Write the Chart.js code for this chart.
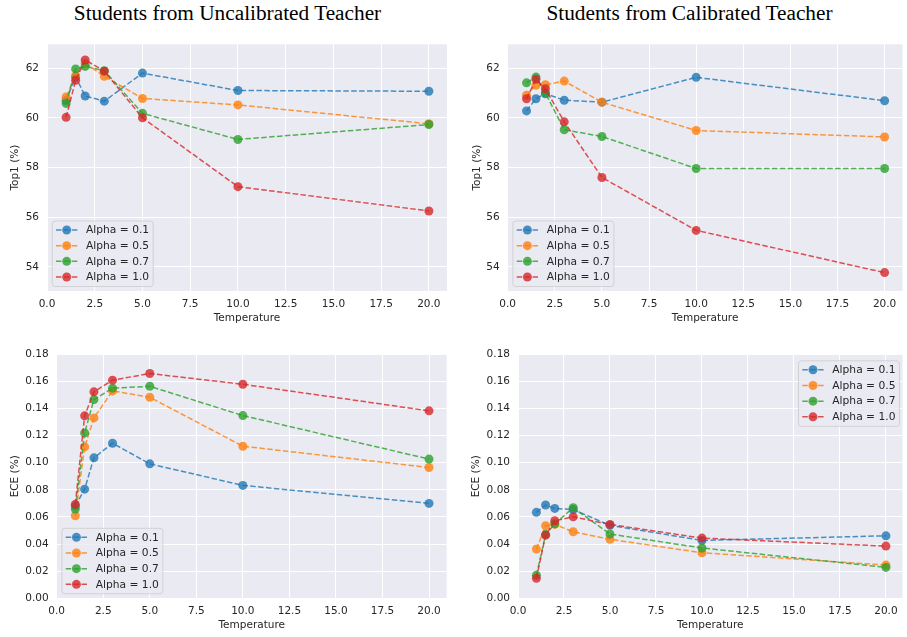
<!DOCTYPE html>
<html lang="en">
<head>
  <meta charset="UTF-8" />
  <title>Students from Uncalibrated / Calibrated Teacher</title>
  <script src="https://cdn.jsdelivr.net/npm/chart.js"></script>
  <style>
    body { margin: 0; background: #fff; width: 907px; height: 637px; overflow: hidden; position: relative; }
    canvas { position: absolute; }
    .title { position: absolute; width: 400px; text-align: center; font-family: "Liberation Serif", "Times New Roman", serif;
             font-size: 21.3px; line-height: 21.3px; color: #000; top: 3px; white-space: nowrap; }
  </style>
</head>
<body>
  <div class="title" style="left: 27.5px;">Students from Uncalibrated Teacher</div>
  <div class="title" style="left: 489.5px;">Students from Calibrated Teacher</div>

  <canvas id="uncalTop1Chart" width="452" height="300" style="left:0;top:30px"></canvas>
  <canvas id="calTop1Chart" width="450" height="300" style="left:457px;top:30px"></canvas>
  <canvas id="uncalEceChart" width="452" height="297" style="left:0;top:340px"></canvas>
  <canvas id="calEceChart" width="450" height="297" style="left:457px;top:340px"></canvas>

  <script>
    // data
    const temperatures = [1, 1.5, 2, 3, 5, 10, 20];
    const alphas = ['0.1', '0.5', '0.7', '1.0'];
    const xTicks = [0, 2.5, 5, 7.5, 10, 12.5, 15, 17.5, 20];

    // rows: alpha 0.1, 0.5, 0.7, 1.0
    const uncalTop1 = [
      [60.70, 61.64, 60.88, 60.67, 61.80, 61.10, 61.07],
      [60.84, 61.70, 62.20, 61.67, 60.78, 60.52, 59.76],
      [60.58, 61.97, 62.07, 61.90, 60.18, 59.13, 59.73],
      [60.02, 61.51, 62.33, 61.88, 60.00, 57.23, 56.25]
    ];
    const calTop1 = [
      [60.28, 60.77, 60.97, 60.71, 60.63, 61.63, 60.69],
      [60.91, 61.31, 61.33, 61.48, 60.63, 59.49, 59.23],
      [61.41, 61.64, 61.00, 59.52, 59.25, 57.96, 57.96],
      [60.77, 61.55, 61.17, 59.84, 57.60, 55.47, 53.77]
    ];
    const uncalEce = [
      [0.0680, 0.0805, 0.1036, 0.1144, 0.0992, 0.0833, 0.0700],
      [0.0609, 0.1117, 0.1331, 0.1530, 0.1483, 0.1122, 0.0965],
      [0.0658, 0.1220, 0.1466, 0.1550, 0.1564, 0.1348, 0.1027],
      [0.0693, 0.1346, 0.1523, 0.1609, 0.1658, 0.1579, 0.1383]
    ];
    const calEce = [
      [0.0634, 0.0688, 0.0663, 0.0655, 0.0538, 0.0427, 0.0461],
      [0.0363, 0.0535, 0.0545, 0.0491, 0.0435, 0.0336, 0.0245],
      [0.0170, 0.0470, 0.0550, 0.0668, 0.0474, 0.0371, 0.0228],
      [0.0147, 0.0466, 0.0572, 0.0601, 0.0545, 0.0444, 0.0385]
    ];

    const colors = ['rgba(31,119,180,0.8)', 'rgba(255,127,14,0.8)', 'rgba(44,160,44,0.8)', 'rgba(214,39,40,0.8)'];
    const textColor = '#262626';
    const fontFamily = '"DejaVu Sans", sans-serif';

    Chart.defaults.font.family = fontFamily;
    Chart.defaults.font.size = 10.5;
    Chart.defaults.color = textColor;

    // seaborn-style grey plot background
    const plotBg = {
      id: 'plotBg',
      beforeDraw(chart) {
        const { ctx, chartArea: a } = chart;
        ctx.save();
        ctx.fillStyle = '#eaeaf2';
        ctx.fillRect(a.left, a.top, a.right - a.left, a.bottom - a.top);
        ctx.restore();
      }
    };

    // matplotlib-like legend drawn inside the axes
    const insideLegend = {
      id: 'insideLegend',
      afterDatasetsDraw(chart, args, opts) {
        const { ctx, chartArea: a } = chart;
        const w = 101, h = 65.5;
        const x = opts.corner === 'lower left' ? a.left + 4.7 : a.right - 3.5 - w;
        const y = opts.corner === 'lower left' ? a.bottom - 5 - h : a.top + 6;
        ctx.save();
        ctx.beginPath();
        if (ctx.roundRect) ctx.roundRect(x + 0.5, y + 0.5, w, h, 3);
        else ctx.rect(x + 0.5, y + 0.5, w, h);
        ctx.fillStyle = 'rgba(234,234,242,0.8)';
        ctx.fill();
        ctx.strokeStyle = 'rgba(204,204,204,0.8)';
        ctx.lineWidth = 1;
        ctx.stroke();
        chart.data.datasets.forEach((ds, i) => {
          const cy = y + 9.5 + i * 15.67;
          ctx.setLineDash(ds.borderDash);
          ctx.strokeStyle = ds.borderColor;
          ctx.lineWidth = ds.borderWidth;
          ctx.beginPath();
          ctx.moveTo(x + 4.3, cy);
          ctx.lineTo(x + 25.6, cy);
          ctx.stroke();
          ctx.setLineDash([]);
          ctx.beginPath();
          ctx.arc(x + 15, cy, ds.pointRadius, 0, Math.PI * 2);
          ctx.fillStyle = ds.pointBackgroundColor;
          ctx.fill();
          ctx.fillStyle = textColor;
          ctx.font = '10.7px ' + fontFamily;
          ctx.textBaseline = 'middle';
          ctx.fillText(ds.label, x + 34.3, cy + 0.5);
        });
        ctx.restore();
      }
    };

    function makeDatasets(rows) {
      return rows.map((vals, i) => ({
        label: 'Alpha = ' + alphas[i],
        data: vals.map((v, j) => ({ x: temperatures[j], y: v })),
        borderColor: colors[i],
        backgroundColor: colors[i],
        pointBackgroundColor: colors[i],
        borderDash: [5.5, 2.4],
        borderWidth: 1.5,
        pointRadius: 4.5,
        pointHoverRadius: 4.5,
        pointBorderWidth: 0,
        order: 4 - i,
        tension: 0
      }));
    }

    function makeChart(id, rows, cfg) {
      new Chart(document.getElementById(id), {
        type: 'line',
        data: { datasets: makeDatasets(rows) },
        plugins: [plotBg, insideLegend],
        options: {
          responsive: false,
          animation: false,
          devicePixelRatio: 1,
          layout: { padding: { top: cfg.padTop, right: cfg.padRight, left: 0, bottom: 0 } },
          plugins: {
            legend: { display: false },
            tooltip: { enabled: false },
            insideLegend: { corner: cfg.legend }
          },
          scales: {
            x: {
              type: 'linear',
              min: 0,
              max: cfg.xMax,
              afterFit: s => { s.height = cfg.xAxisH; },
              afterBuildTicks: s => { s.ticks = xTicks.map(v => ({ value: v })); },
              ticks: { padding: 6.5, maxRotation: 0, autoSkip: false, callback: v => v.toFixed(1) },
              grid: { color: '#ffffff', lineWidth: 1, drawTicks: false },
              border: { display: false },
              title: { display: true, text: 'Temperature', padding: { top: 0, bottom: cfg.xTitlePad } }
            },
            y: {
              type: 'linear',
              min: cfg.yMin,
              max: cfg.yMax,
              afterFit: s => { s.width = cfg.yAxisW; },
              ticks: { stepSize: cfg.yStep, includeBounds: false, padding: 8, callback: v => v.toFixed(cfg.yDec) },
              grid: { color: '#ffffff', lineWidth: 1, drawTicks: false },
              border: { display: false },
              title: { display: true, text: cfg.yLabel, padding: { top: cfg.yTitlePad, bottom: 0 } }
            }
          }
        }
      });
    }

    const top1Axis = { yMin: 53.03, yMax: 62.96, yStep: 2, yDec: 0, yLabel: 'Top1 (%)', xAxisH: 39, xTitlePad: 5.4 };
    const eceAxis = { yMin: 0, yMax: 0.18, yStep: 0.02, yDec: 2, yLabel: 'ECE (%)', xAxisH: 38.7, xTitlePad: 5 };

    makeChart('uncalTop1Chart', uncalTop1, Object.assign({}, top1Axis,
      { padTop: 12, padRight: 5, yAxisW: 47, yTitlePad: 8.7, xMax: 20.95, legend: 'lower left' }));
    makeChart('calTop1Chart', calTop1, Object.assign({}, top1Axis,
      { padTop: 11.7, padRight: 0.5, yAxisW: 50.7, yTitlePad: 13.7, xMax: 20.95, legend: 'lower left' }));
    makeChart('uncalEceChart', uncalEce, Object.assign({}, eceAxis,
      { padTop: 13.3, padRight: 5.3, yAxisW: 56.7, yTitlePad: 8.7, xMax: 20.95, legend: 'lower left' }));
    makeChart('calEceChart', calEce, Object.assign({}, eceAxis,
      { padTop: 13.3, padRight: 0.7, yAxisW: 61, yTitlePad: 13, xMax: 20.9, legend: 'upper right' }));
  </script>
</body>
</html>
